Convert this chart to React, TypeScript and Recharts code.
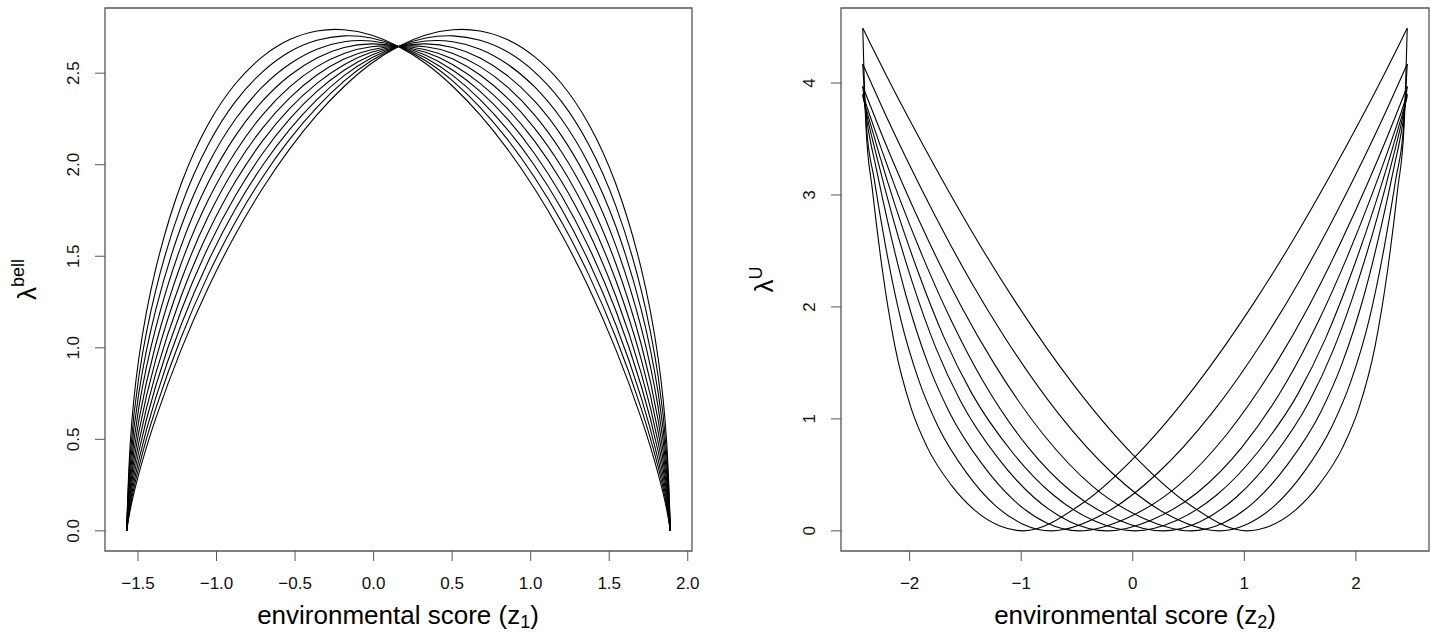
import React from 'react'
import { LineChart, Line, XAxis, YAxis, ReferenceArea } from 'recharts'

const FONT = '"Liberation Sans", Arial, Helvetica, sans-serif'

// ---- left panel: bell curves, all sampled on one z grid ----
const zBell = [-1.572, -1.555, -1.503, -1.399, -1.226, -1.053, -0.88, -0.707, -0.534, -0.361, -0.188, -0.015, 0.158, 0.332, 0.505, 0.678, 0.851, 1.024, 1.197, 1.37, 1.543, 1.716, 1.82, 1.872, 1.889]

const bell0 = [0, 0.484, 0.938, 1.43, 1.923, 2.238, 2.454, 2.599, 2.691, 2.737, 2.743, 2.714, 2.651, 2.559, 2.432, 2.277, 2.091, 1.876, 1.626, 1.336, 1.0, 0.596, 0.295, 0.1, 0]
const bell1 = [0, 0.414, 0.836, 1.31, 1.8, 2.125, 2.356, 2.516, 2.625, 2.686, 2.71, 2.698, 2.651, 2.574, 2.462, 2.319, 2.145, 1.938, 1.694, 1.407, 1.068, 0.65, 0.332, 0.117, 0]
const bell2 = [0, 0.353, 0.745, 1.2, 1.687, 2.018, 2.259, 2.435, 2.557, 2.638, 2.678, 2.681, 2.651, 2.589, 2.492, 2.361, 2.199, 2.002, 1.766, 1.481, 1.139, 0.71, 0.372, 0.137, 0]
const bell3 = [0, 0.302, 0.663, 1.1, 1.579, 1.917, 2.168, 2.357, 2.494, 2.59, 2.646, 2.666, 2.651, 2.604, 2.522, 2.406, 2.257, 2.068, 1.839, 1.56, 1.217, 0.776, 0.418, 0.161, 0]
const bell4 = [0, 0.258, 0.591, 1.007, 1.48, 1.821, 2.079, 2.281, 2.432, 2.542, 2.614, 2.65, 2.651, 2.62, 2.552, 2.45, 2.314, 2.137, 1.917, 1.642, 1.298, 0.846, 0.469, 0.188, 0]
const bell5 = [0, 0.22, 0.526, 0.923, 1.386, 1.729, 1.997, 2.208, 2.372, 2.496, 2.583, 2.634, 2.651, 2.634, 2.583, 2.496, 2.372, 2.208, 1.997, 1.729, 1.386, 0.923, 0.526, 0.22, 0]
const bell6 = [0, 0.188, 0.469, 0.846, 1.298, 1.642, 1.917, 2.137, 2.314, 2.45, 2.552, 2.62, 2.651, 2.65, 2.614, 2.542, 2.432, 2.281, 2.079, 1.821, 1.48, 1.007, 0.591, 0.258, 0]
const bell7 = [0, 0.161, 0.418, 0.776, 1.217, 1.56, 1.839, 2.068, 2.257, 2.406, 2.522, 2.604, 2.651, 2.666, 2.646, 2.59, 2.494, 2.357, 2.168, 1.917, 1.579, 1.1, 0.663, 0.302, 0]
const bell8 = [0, 0.137, 0.372, 0.71, 1.139, 1.481, 1.766, 2.002, 2.199, 2.361, 2.492, 2.589, 2.651, 2.681, 2.678, 2.638, 2.557, 2.435, 2.259, 2.018, 1.687, 1.2, 0.745, 0.353, 0]
const bell9 = [0, 0.117, 0.332, 0.65, 1.068, 1.407, 1.694, 1.938, 2.145, 2.319, 2.462, 2.574, 2.651, 2.698, 2.71, 2.686, 2.625, 2.516, 2.356, 2.125, 1.8, 1.31, 0.836, 0.414, 0]
const bell10 = [0, 0.1, 0.295, 0.596, 1.0, 1.336, 1.626, 1.876, 2.091, 2.277, 2.432, 2.559, 2.651, 2.714, 2.743, 2.737, 2.691, 2.599, 2.454, 2.238, 1.923, 1.43, 0.938, 0.484, 0]

const bellCurves = [bell0, bell1, bell2, bell3, bell4, bell5, bell6, bell7, bell8, bell9, bell10]

const bellXTicks = [-1.5, -1, -0.5, 0, 0.5, 1, 1.5, 2]
const bellYTicks = [0, 0.5, 1, 1.5, 2, 2.5]

// ---- right panel: U curves, each with its own z points [z, lambda] ----
const u0 = [[-2.42, 4.49], [-2.391, 3.6], [-2.334, 3.05], [-2.247, 2.35], [-2.132, 1.65], [-1.988, 1.1], [-1.844, 0.75], [-1.628, 0.41], [-1.412, 0.18], [-1.196, 0.045], [-0.98, 0], [-0.464, 0.237], [0.052, 0.695], [0.568, 1.302], [1.084, 2.034], [1.428, 2.582], [1.772, 3.178], [2.047, 3.682], [2.254, 4.079], [2.391, 4.351], [2.46, 4.49]]
const u1 = [[-2.42, 4.17], [-2.386, 3.6], [-2.319, 3.15], [-2.217, 2.55], [-2.082, 1.9], [-1.913, 1.33], [-1.744, 0.93], [-1.491, 0.52], [-1.237, 0.23], [-0.984, 0.06], [-0.73, 0], [-0.251, 0.157], [0.227, 0.519], [0.706, 1.047], [1.184, 1.723], [1.503, 2.248], [1.822, 2.835], [2.077, 3.342], [2.269, 3.746], [2.396, 4.027], [2.46, 4.17]]
const u2 = [[-2.42, 3.97], [-2.381, 3.65], [-2.304, 3.26], [-2.187, 2.72], [-2.032, 2.1], [-1.838, 1.5], [-1.644, 1.06], [-1.353, 0.6], [-1.062, 0.27], [-0.771, 0.07], [-0.48, 0], [-0.039, 0.12], [0.402, 0.4], [0.843, 0.863], [1.284, 1.496], [1.578, 2.007], [1.872, 2.593], [2.107, 3.109], [2.284, 3.527], [2.401, 3.819], [2.46, 3.97]]
const u3 = [[-2.42, 3.9], [-2.376, 3.68], [-2.289, 3.32], [-2.157, 2.82], [-1.982, 2.24], [-1.763, 1.63], [-1.544, 1.16], [-1.216, 0.66], [-0.887, 0.3], [-0.559, 0.08], [-0.23, 0], [0.174, 0.1], [0.577, 0.34], [0.981, 0.75], [1.384, 1.34], [1.653, 1.849], [1.922, 2.447], [2.137, 2.985], [2.299, 3.427], [2.406, 3.739], [2.46, 3.9]]
const u4 = [[-2.42, 3.88], [-2.371, 3.705], [-2.274, 3.369], [-2.127, 2.898], [-1.932, 2.334], [-1.688, 1.719], [-1.444, 1.23], [-1.078, 0.7], [-0.712, 0.32], [-0.346, 0.09], [0.02, 0], [0.386, 0.09], [0.752, 0.32], [1.118, 0.7], [1.484, 1.23], [1.728, 1.719], [1.972, 2.334], [2.167, 2.898], [2.314, 3.369], [2.411, 3.705], [2.46, 3.88]]
const u5 = [[-2.42, 3.9], [-2.366, 3.739], [-2.259, 3.427], [-2.097, 2.985], [-1.882, 2.447], [-1.613, 1.849], [-1.344, 1.34], [-0.941, 0.75], [-0.537, 0.34], [-0.134, 0.1], [0.27, 0], [0.599, 0.08], [0.927, 0.3], [1.256, 0.66], [1.584, 1.16], [1.803, 1.63], [2.022, 2.24], [2.197, 2.82], [2.329, 3.32], [2.416, 3.68], [2.46, 3.9]]
const u6 = [[-2.42, 3.97], [-2.361, 3.819], [-2.244, 3.527], [-2.067, 3.109], [-1.832, 2.593], [-1.538, 2.007], [-1.244, 1.496], [-0.803, 0.863], [-0.362, 0.4], [0.079, 0.12], [0.52, 0], [0.811, 0.07], [1.102, 0.27], [1.393, 0.6], [1.684, 1.06], [1.878, 1.5], [2.072, 2.1], [2.227, 2.72], [2.344, 3.26], [2.421, 3.65], [2.46, 3.97]]
const u7 = [[-2.42, 4.17], [-2.356, 4.027], [-2.229, 3.746], [-2.037, 3.342], [-1.782, 2.835], [-1.463, 2.248], [-1.144, 1.723], [-0.666, 1.047], [-0.187, 0.519], [0.291, 0.157], [0.77, 0], [1.024, 0.06], [1.277, 0.23], [1.531, 0.52], [1.784, 0.93], [1.953, 1.33], [2.122, 1.9], [2.257, 2.55], [2.359, 3.15], [2.426, 3.6], [2.46, 4.17]]
const u8 = [[-2.42, 4.49], [-2.351, 4.351], [-2.214, 4.079], [-2.007, 3.682], [-1.732, 3.178], [-1.388, 2.582], [-1.044, 2.034], [-0.528, 1.302], [-0.012, 0.695], [0.504, 0.237], [1.02, 0], [1.236, 0.045], [1.452, 0.18], [1.668, 0.41], [1.884, 0.75], [2.028, 1.1], [2.172, 1.65], [2.287, 2.35], [2.374, 3.05], [2.431, 3.6], [2.46, 4.49]]

const uCurves = [u0, u1, u2, u3, u4, u5, u6, u7, u8]

const uXTicks = [-2, -1, 0, 1, 2]
const uYTicks = [0, 1, 2, 3, 4]

// tables for recharts
const bellRows = zBell.map((z, i) => {
  const row: Record<string, number> = { z }
  bellCurves.forEach((c, k) => { row['c' + k] = c[i] })
  return row
})
const uSeries = uCurves.map(c => c.map(([x, y]) => ({ x, y })))

const minus = (v: number, digits: number) =>
  (v < 0 ? '\u2212' : '') + Math.abs(v).toFixed(digits)

const XTick = ({ x, y, payload, digits }: any) => (
  <text x={x} y={y} dy="0.71em" textAnchor="middle" fontSize={17} fontFamily={FONT} fill="#111">
    {minus(payload.value, digits)}
  </text>
)

// R draws y tick labels parallel to the axis
const YTick = ({ x, y, payload, digits }: any) => (
  <text x={x} y={y} dy="0.36em" textAnchor="middle" fontSize={17} fontFamily={FONT} fill="#111"
    transform={`rotate(-90 ${x} ${y})`}>
    {minus(payload.value, digits)}
  </text>
)

const axisStroke = '#555'

const BellPanel = () => (
  <LineChart width={720} height={632} data={bellRows} margin={{ top: 8, right: 28, bottom: 0, left: 0 }}>
    <XAxis dataKey="z" type="number" domain={[-1.71, 2.027]} allowDataOverflow ticks={bellXTicks}
      axisLine={false} tickLine={{ stroke: axisStroke }} tickSize={10} tickMargin={16} height={81}
      tick={(p: any) => <XTick {...p} digits={1} />} />
    <YAxis type="number" domain={[-0.11, 2.856]} allowDataOverflow ticks={bellYTicks}
      axisLine={false} tickLine={{ stroke: axisStroke }} tickSize={10} tickMargin={22} width={105}
      tick={(p: any) => <YTick {...p} digits={1} />} />
    <ReferenceArea x1={-1.71} x2={2.027} y1={-0.11} y2={2.856} fill="none" stroke={axisStroke}
      strokeWidth={1.3} ifOverflow="visible" />
    {bellCurves.map((_, k) => (
      <Line key={k} dataKey={'c' + k} type="basis" stroke="#000" strokeWidth={1.1}
        dot={false} activeDot={false} isAnimationActive={false} />
    ))}
  </LineChart>
)

const UPanel = () => (
  <LineChart width={716} height={632} margin={{ top: 8, right: 7, bottom: 0, left: 0 }}>
    <XAxis dataKey="x" type="number" domain={[-2.615, 2.655]} allowDataOverflow ticks={uXTicks}
      axisLine={false} tickLine={{ stroke: axisStroke }} tickSize={10} tickMargin={16} height={81}
      tick={(p: any) => <XTick {...p} digits={0} />} />
    <YAxis type="number" domain={[-0.18, 4.67]} allowDataOverflow ticks={uYTicks}
      axisLine={false} tickLine={{ stroke: axisStroke }} tickSize={10} tickMargin={22} width={121}
      tick={(p: any) => <YTick {...p} digits={0} />} />
    <ReferenceArea x1={-2.615} x2={2.655} y1={-0.18} y2={4.67} fill="none" stroke={axisStroke}
      strokeWidth={1.3} ifOverflow="visible" />
    {uSeries.map((d, k) => (
      <Line key={k} data={d} dataKey="y" type="monotone" stroke="#000" strokeWidth={1.1}
        dot={false} activeDot={false} isAnimationActive={false} />
    ))}
  </LineChart>
)

// axis titles, drawn like R's mtext
const Titles = () => (
  <svg width={1436} height={632} style={{ position: 'absolute', left: 0, top: 0, pointerEvents: 'none' }}
    fontFamily={FONT} fill="#000">
    <text x={398} y={624} textAnchor="middle" fontSize={26}>
      environmental score (z<tspan fontSize={18} dy={4}>1</tspan><tspan dy={-4}>)</tspan>
    </text>
    <text x={1135} y={624} textAnchor="middle" fontSize={26}>
      environmental score (z<tspan fontSize={18} dy={4}>2</tspan><tspan dy={-4}>)</tspan>
    </text>
    <text x={36} y={279.5} textAnchor="middle" fontSize={26} transform="rotate(-90 36 279.5)">
      λ<tspan fontSize={18} dy={-12}>bell</tspan>
    </text>
    <text x={773} y={279.5} textAnchor="middle" fontSize={26} transform="rotate(-90 773 279.5)">
      λ<tspan fontSize={18} dy={-11}>U</tspan>
    </text>
  </svg>
)

export default function App() {
  return (
    <div style={{ position: 'absolute', left: 0, top: 0, width: 1436, height: 632, background: '#fff', fontFamily: FONT }}>
      <div style={{ position: 'absolute', left: 0, top: 0 }}>
        <BellPanel />
      </div>
      <div style={{ position: 'absolute', left: 720, top: 0 }}>
        <UPanel />
      </div>
      <Titles />
    </div>
  )
}
